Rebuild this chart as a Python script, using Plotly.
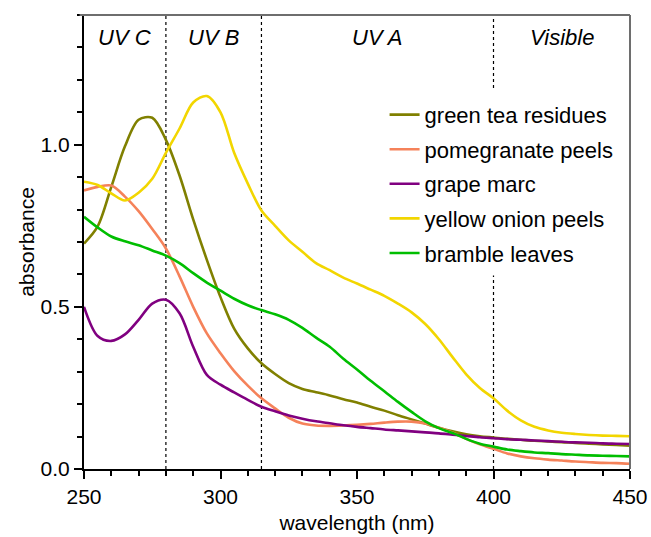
import plotly.graph_objects as go

# Absorption spectra of plant-waste extracts, 250-450 nm
wavelength = list(range(250, 451, 5))

green_tea_residues = [
    0.695, 0.748, 0.870, 0.995, 1.077, 1.083, 1.015, 0.905, 0.770, 0.645,
    0.530, 0.433, 0.372, 0.326, 0.293, 0.265, 0.247, 0.237, 0.227, 0.215,
    0.205, 0.192, 0.180, 0.166, 0.153, 0.140, 0.127, 0.116, 0.107, 0.101,
    0.097, 0.093, 0.090, 0.087, 0.085, 0.083, 0.080, 0.078, 0.076, 0.074,
    0.072,
]
pomegranate_peels = [
    0.859, 0.870, 0.874, 0.840, 0.795, 0.740, 0.680, 0.594, 0.500, 0.418,
    0.357, 0.302, 0.257, 0.218, 0.187, 0.158, 0.140, 0.134, 0.133, 0.134,
    0.136, 0.139, 0.143, 0.146, 0.146, 0.140, 0.127, 0.112, 0.093, 0.076,
    0.062, 0.048, 0.039, 0.033, 0.029, 0.026, 0.023, 0.021, 0.019, 0.018,
    0.016,
]
grape_marc = [
    0.500, 0.410, 0.395, 0.415, 0.460, 0.510, 0.522, 0.480, 0.377, 0.290,
    0.260, 0.236, 0.213, 0.192, 0.178, 0.165, 0.155, 0.147, 0.141, 0.135,
    0.130, 0.126, 0.122, 0.119, 0.116, 0.113, 0.110, 0.106, 0.102, 0.098,
    0.095, 0.092, 0.090, 0.088, 0.086, 0.084, 0.082, 0.081, 0.079, 0.078,
    0.077,
]
yellow_onion_peels = [
    0.886, 0.876, 0.850, 0.828, 0.852, 0.895, 0.975, 1.050, 1.130, 1.150,
    1.100, 0.975, 0.880, 0.797, 0.750, 0.705, 0.670, 0.635, 0.613, 0.590,
    0.572, 0.553, 0.534, 0.510, 0.483, 0.447, 0.400, 0.345, 0.292, 0.250,
    0.218, 0.180, 0.150, 0.130, 0.119, 0.112, 0.108, 0.105, 0.103, 0.102,
    0.101,
]
bramble_leaves = [
    0.778, 0.745, 0.717, 0.702, 0.690, 0.674, 0.658, 0.635, 0.604, 0.575,
    0.550, 0.525, 0.505, 0.490, 0.477, 0.460, 0.435, 0.405, 0.377, 0.340,
    0.307, 0.272, 0.240, 0.207, 0.176, 0.147, 0.126, 0.111, 0.093, 0.078,
    0.069, 0.060, 0.055, 0.051, 0.049, 0.046, 0.044, 0.042, 0.041, 0.040,
    0.039,
]

series_names = ["green tea residues", "pomegranate peels", "grape marc",
                "yellow onion peels", "bramble leaves"]
series_values = [green_tea_residues, pomegranate_peels, grape_marc,
                 yellow_onion_peels, bramble_leaves]
series_colors = ["#808000", "#F5825A", "#800080", "#F2D600", "#00BE00"]

# Spectral regions: boundaries and labels
band_edges = [250, 280, 315, 400, 450]
band_labels = ["UV C", "UV B", "UV A", "Visible"]

FONT = "Liberation Sans, Arial, sans-serif"
Y_MAX = 1.4

fig = go.Figure()
for i, (name, vals, col) in enumerate(zip(series_names, series_values, series_colors)):
    fig.add_trace(go.Scatter(
        x=wavelength, y=vals, name=name, mode="lines",
        line=dict(color=col, width=2.6, shape="spline", smoothing=0.9),
        legendgroup=f"g{i}",
    ))

# Dotted region separators
for edge in band_edges[1:-1]:
    if edge == 400:
        segments = [(0, 0.597), (1.175, Y_MAX)]
    else:
        segments = [(0, Y_MAX)]
    for y0, y1 in segments:
        fig.add_shape(type="line", xref="x", yref="y", x0=edge, x1=edge,
                      y0=y0, y1=y1, layer="below",
                      line=dict(color="black", width=1.2, dash="dot"))

# Region labels centred in each band
for lo, hi, lab in zip(band_edges[:-1], band_edges[1:], band_labels):
    fig.add_annotation(x=(lo + hi) / 2, y=1.33, xref="x", yref="y",
                       text=f"<i>{lab}</i>", showarrow=False,
                       font=dict(family=FONT, size=22, color="black"))

# Grey frame on top and right
fig.add_shape(type="line", xref="paper", yref="paper", x0=-0.008, x1=1,
              y0=1, y1=1, line=dict(color="#6e6e6e", width=2))
fig.add_shape(type="line", xref="paper", yref="paper", x0=1, x1=1,
              y0=0, y1=1, line=dict(color="#6e6e6e", width=2))

fig.update_layout(
    width=651, height=537,
    margin=dict(l=84, r=21, t=15, b=68),
    paper_bgcolor="white", plot_bgcolor="white",
    font=dict(family=FONT, size=21, color="black"),
    showlegend=True,
    legend=dict(x=0.5505, y=0.8264, xanchor="left", yanchor="top",
                bgcolor="rgba(0,0,0,0)", tracegroupgap=3,
                font=dict(family=FONT, size=22, color="black")),
    xaxis=dict(
        range=[250, 450], dtick=50, tick0=250, automargin=False,
        showgrid=False, zeroline=False,
        showline=True, linecolor="black", linewidth=2,
        ticks="outside", ticklen=8, tickwidth=1.5, tickcolor="black",
        minor=dict(dtick=10, ticks="outside", ticklen=5, tickwidth=1.5,
                   tickcolor="black", showgrid=False),
        title=dict(text="wavelength (nm)", standoff=8,
                   font=dict(family=FONT, size=21)),
        tickfont=dict(family=FONT, size=21),
    ),
    yaxis=dict(
        range=[0, Y_MAX], dtick=0.5, tick0=0, tickformat=".1f",
        automargin=False,
        showgrid=False, zeroline=False,
        showline=True, linecolor="black", linewidth=2,
        ticks="outside", ticklen=8, tickwidth=1.5, tickcolor="black",
        minor=dict(dtick=0.1, ticks="outside", ticklen=5, tickwidth=1.5,
                   tickcolor="black", showgrid=False),
        title=dict(text="absorbance", standoff=0,
                   font=dict(family=FONT, size=21)),
        tickfont=dict(family=FONT, size=21),
    ),
)

fig.write_html("out.html")
